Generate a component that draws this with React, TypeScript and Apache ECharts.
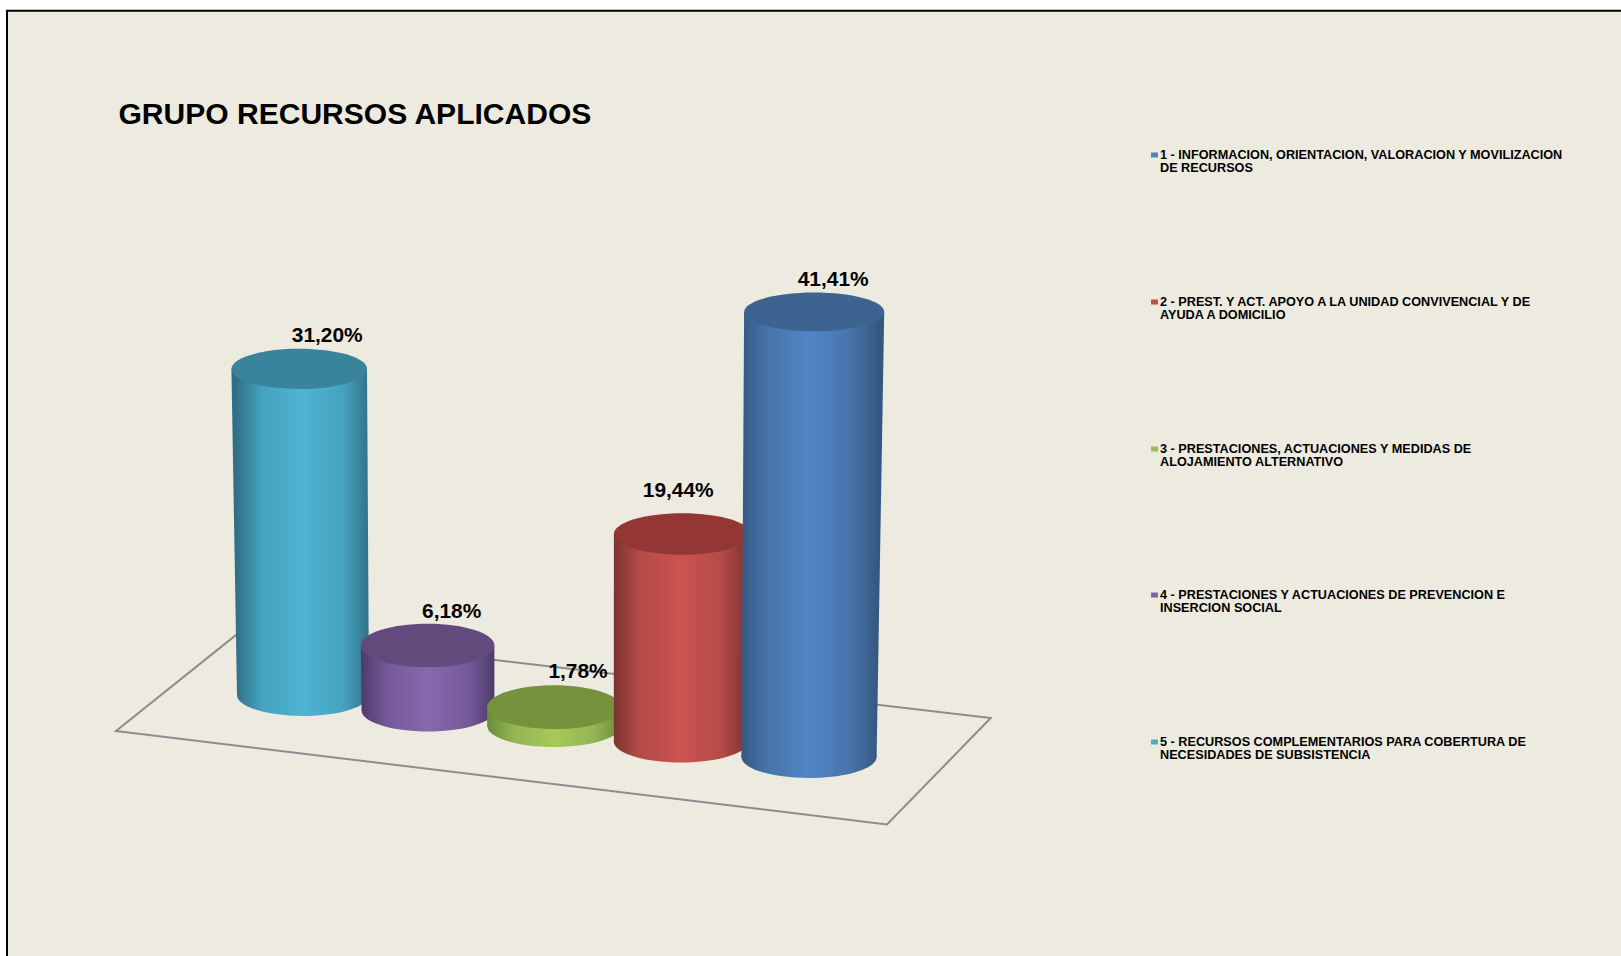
import React, { useEffect, useRef } from "react";
import * as echarts from "echarts";

const FONT = '"Liberation Sans", Arial, sans-serif';

const chartTitle = "GRUPO RECURSOS APLICADOS";

// Legend order: 1 to 5
const legendLines: string[][] = [
  ["1 - INFORMACION, ORIENTACION, VALORACION Y MOVILIZACION", "DE RECURSOS"],
  ["2 - PREST. Y ACT. APOYO A LA UNIDAD CONVIVENCIAL Y DE", "AYUDA A DOMICILIO"],
  ["3 - PRESTACIONES, ACTUACIONES Y MEDIDAS DE", "ALOJAMIENTO ALTERNATIVO"],
  ["4 - PRESTACIONES Y ACTUACIONES DE PREVENCION E", "INSERCION SOCIAL"],
  ["5 - RECURSOS COMPLEMENTARIOS PARA COBERTURA DE", "NECESIDADES DE SUBSISTENCIA"],
];
const legendColors = ["#4F81BD", "#C0504D", "#9BBB59", "#8064A2", "#4BACC6"];

// Plot order: left to right on the floor
const plotCategories = ["5", "4", "3", "2", "1"];
const plotValues = [31.2, 6.18, 1.78, 19.44, 41.41];

// Shading of each cylinder: [edge, mid, centre, top]
const shades: string[][] = [
  ["#2F6E85", "#45A3BF", "#4DB4D2", "#3A839C"],
  ["#4E3B6A", "#74599A", "#8869AD", "#634A7D"],
  ["#6B8A3A", "#94B553", "#A6C95A", "#76923C"],
  ["#7A3230", "#B54A47", "#CC5350", "#943634"],
  ["#34577F", "#4873AA", "#5185C7", "#3D6491"],
];

// Hand-placed data labels, relative to the top of each cylinder
const labelShiftX = [28, 24, 24, -4, 19];
const labelShiftY = [-14, -14.5, -16, -24, -13];

const floorPoints = [
  [116, 731],
  [887, 824.5],
  [990.7, 718],
  [241.8, 630.4],
];

const legendRowTops = [155, 302, 449, 595, 742];

function renderCylinder(params: any, api: any) {
  const i = api.value(0);
  const v = api.value(1);
  const base = api.coord([i, 0]);
  const cx0 = base[0] + 0.5 * i * (i - 1);
  const cy0 = base[1] + 15.5 * i;
  const h = api.size([0, v])[1] * (1 + 0.007 * (i - 2));
  const cx1 = cx0 + h * 0.0058 * (i - 2);
  const cy1 = cy0 - h;
  const rx0 = 66 + 0.4 * i;
  const rx1 = rx0 + h * 0.0055;
  const ry1 = 22 - h * 0.006;
  const [edge, mid, centre, top] = shades[i];
  const fill = new echarts.graphic.LinearGradient(
    cx0 - rx1,
    0,
    cx0 + rx1,
    0,
    [
      { offset: 0, color: edge },
      { offset: 0.2, color: mid },
      { offset: 0.5, color: centre },
      { offset: 0.8, color: mid },
      { offset: 1, color: edge },
    ],
    true
  );
  return {
    type: "group",
    children: [
      { type: "ellipse", shape: { cx: cx0, cy: cy0, rx: rx0, ry: 21 }, style: { fill } },
      {
        type: "polygon",
        shape: {
          points: [
            [cx1 - rx1, cy1],
            [cx0 - rx0, cy0],
            [cx0 + rx0, cy0],
            [cx1 + rx1, cy1],
          ],
        },
        style: { fill },
      },
      { type: "ellipse", shape: { cx: cx1, cy: cy1, rx: rx1, ry: ry1 }, style: { fill: top } },
      {
        type: "text",
        z2: 50,
        x: cx1 + labelShiftX[i],
        y: cy1 - 20 + labelShiftY[i],
        scaleX: 1.045,
        style: {
          x: 0,
          y: 0,
          text: v.toFixed(2).replace(".", ",") + "%",
          fill: "#000",
          font: `bold 20px ${FONT}`,
          align: "center",
          verticalAlign: "middle",
        },
      },
    ],
  };
}

export default function App() {
  const ref = useRef<HTMLDivElement>(null);
  useEffect(() => {
    const chart = echarts.init(ref.current!, null, { renderer: "svg" });
    const legendEls: any[] = [];
    legendLines.forEach((lines, k) => {
      const y = legendRowTops[k];
      legendEls.push({
        type: "rect",
        shape: { x: 1151, y: y - 2.5, width: 7, height: 5 },
        style: { fill: legendColors[k] },
      });
      lines.forEach((line, n) => {
        legendEls.push({
          type: "text",
          x: 1160,
          y: y + n * 13,
          scaleX: 1.057,
          style: {
            x: 0,
            y: 0,
            text: line,
            fill: "#000",
            font: `bold 12px ${FONT}`,
            align: "left",
            verticalAlign: "middle",
          },
        });
      });
    });
    chart.setOption({
      animation: false,
      backgroundColor: "#FFFFFF",
      grid: { left: 240.5, width: 625, top: 218, height: 477 },
      xAxis: { type: "category", data: plotCategories, show: false },
      yAxis: { type: "value", min: 0, max: 45, show: false },
      graphic: [
        {
          type: "rect",
          z: -10,
          shape: { x: 7, y: 10.7, width: 1800, height: 1200 },
          style: { fill: "#EDEBE0", stroke: "#000", lineWidth: 2 },
        },
        {
          type: "polygon",
          z: -5,
          shape: { points: floorPoints },
          style: { fill: "none", stroke: "#8C8C8C", lineWidth: 2 },
        },
        {
          type: "text",
          x: 118.5,
          y: 113.5,
          scaleX: 1.036,
          style: {
            x: 0,
            y: 0,
            text: chartTitle,
            fill: "#000",
            font: `bold 29px ${FONT}`,
            align: "left",
            verticalAlign: "middle",
          },
        },
        ...legendEls,
      ],
      series: [
        {
          type: "custom",
          z: 5,
          clip: false,
          renderItem: renderCylinder,
          encode: { x: 0, y: 1 },
          data: plotValues.map((v, i) => [i, v]),
        },
      ],
    });
    return () => chart.dispose();
  }, []);
  return (
    <div
      ref={ref}
      style={{ position: "absolute", left: 0, top: 0, width: 1621, height: 956 }}
    />
  );
}
